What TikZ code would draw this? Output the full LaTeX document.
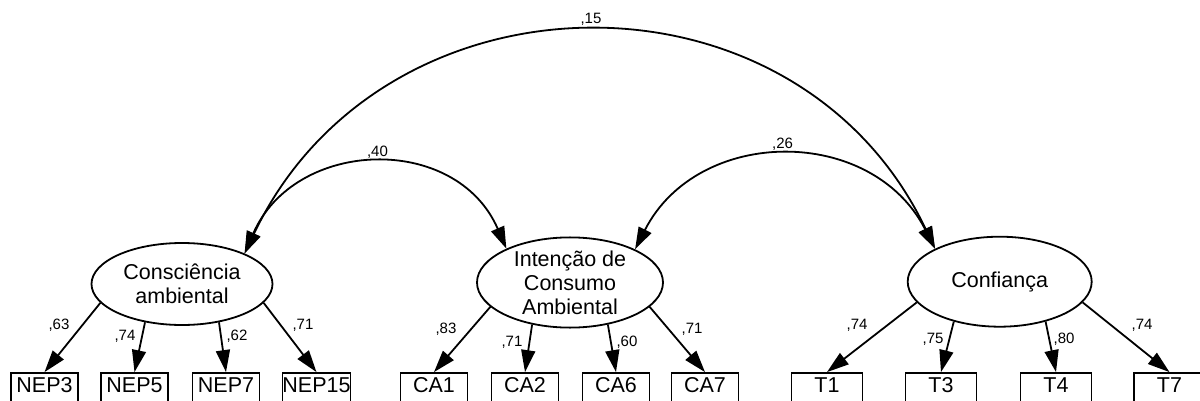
\documentclass[tikz,border=0pt]{standalone}
\usepackage{fontspec}
\setmainfont{Liberation Sans}
\usetikzlibrary{arrows.meta,shapes.geometric}
\begin{document}
\begin{tikzpicture}[x=1pt,y=-1pt,
  every node/.style={font=\fontsize{21.5}{24}\selectfont},
  lat/.style={draw, ellipse, line width=1.8pt, inner sep=0pt, align=center},
  obs/.style={draw, rectangle, line width=1.8pt, inner xsep=0pt, inner ysep=4pt,
              text height=15pt, text depth=12pt, minimum width=67pt},
  obsw/.style={obs, minimum width=71pt},
  coef/.style={font=\fontsize{15}{17}\selectfont, inner sep=0pt},
  load/.style={line width=1.8pt, -{Triangle[length=22pt,width=14pt]}},
  covar/.style={line width=1.8pt, {Triangle[length=22pt,width=14pt]}-{Triangle[length=22pt,width=14pt]}}
]
\useasboundingbox (0,0) rectangle (1200,401);

% latent variables
\node[lat, minimum width=181pt, minimum height=82pt] (e1) at (182,284) {Consciência\\ambiental};
\node[lat, minimum width=186pt, minimum height=89pt] (e2) at (570,282.5) {Intenção de\\Consumo\\Ambiental};
\node[lat, minimum width=184pt, minimum height=90pt] (e3) at (999.7,281.7) {Confiança};

% observed variables
\node[obs] (nep3)  at (44.5,390.5) {NEP3};
\node[obs] (nep5)  at (134.5,390.5) {NEP5};
\node[obs] (nep7)  at (226,390.5) {NEP7};
\node[obs] (nep15) at (316.5,390.5) {NEP15};
\node[obs] (ca1) at (434,390.5) {CA1};
\node[obs] (ca2) at (525,390.5) {CA2};
\node[obs] (ca6) at (616,390.5) {CA6};
\node[obs] (ca7) at (705,390.5) {CA7};
\node[obsw] (t1) at (827,390.5) {T1};
\node[obsw] (t3) at (941,390.5) {T3};
\node[obsw] (t4) at (1056,390.5) {T4};
\node[obsw] (t7) at (1169.5,390.5) {T7};

% loadings
\draw[load] (e1.193) -- (nep3.north);
\draw[load] (e1.226) -- (nep5.north);
\draw[load] (e1.314) -- (nep7.north);
\draw[load] (e1.347) -- (nep15.north);
\draw[load] (e2.197) -- (ca1.north);
\draw[load] (e2.228) -- (ca2.north);
\draw[load] (e2.312) -- (ca6.north);
\draw[load] (e2.343) -- (ca7.north);
\draw[load] (e3.194) -- (t1.north);
\draw[load] (e3.221) -- (t3.north);
\draw[load] (e3.319) -- (t4.north);
\draw[load] (e3.346) -- (t7.north);

\node[coef] (l1) at (59,325) {,63};
\node[coef] (l2) at (125,336) {,74};
\node[coef] (l3) at (237,336) {,62};
\node[coef] (l4) at (303,325) {,71};
\node[coef] (l5) at (446,329) {,83};
\node[coef] (l6) at (512,342) {,71};
\node[coef] (l7) at (627,342) {,60};
\node[coef] (l8) at (692,329) {,71};
\node[coef] (l9) at (857,325) {,74};
\node[coef] (l10) at (933,339) {,75};
\node[coef] (l11) at (1064,339) {,80};
\node[coef] (l12) at (1142,325) {,74};

% covariances
\draw[covar] (e1.26) .. controls +(50.2,-115.6) and +(-50.2,-115.6) .. (e2.152);
\draw[covar] (e2.27) .. controls +(62.9,-123.5) and +(-62.9,-123.5) .. (e3.153);
\draw[covar] (e1.26) .. controls +(138.6,-291.5) and +(-138.6,-291.5) .. (e3.153);

\node[coef] (c1) at (377.5,152) {,40};
\node[coef] (c2) at (782.5,144) {,26};
\node[coef] (c3) at (591,19) {,15};
\end{tikzpicture}
\end{document}
